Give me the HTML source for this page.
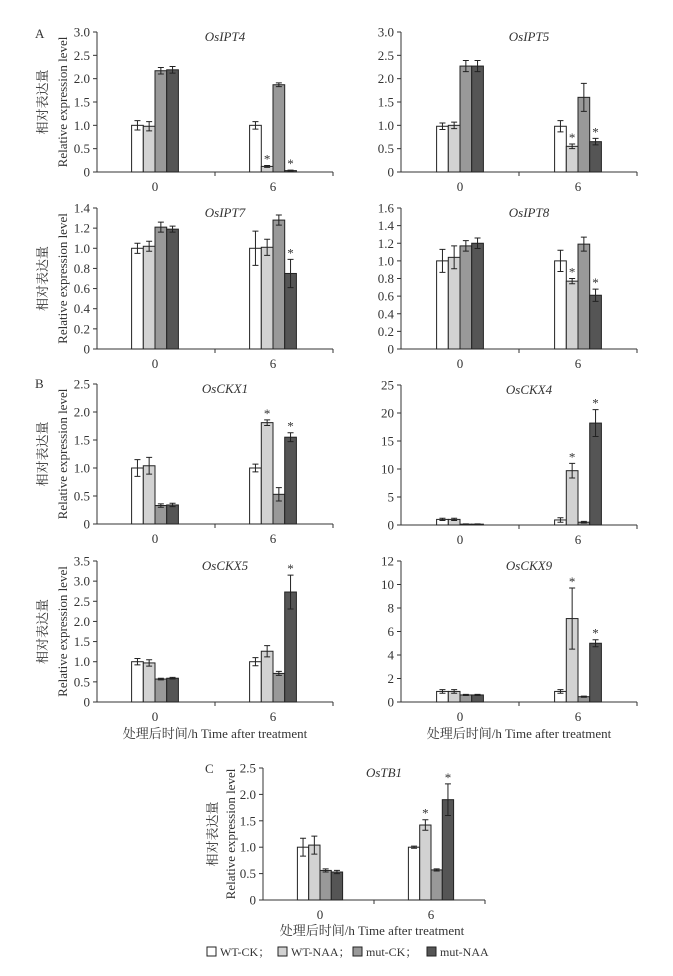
<!DOCTYPE html>
<html><head><meta charset="utf-8"><style>
body{margin:0;background:#fff;}
svg{display:block;font-family:"Liberation Serif","Noto Serif CJK SC",serif;fill:#333;}
</style></head><body>
<svg id="fig" width="673" height="976" viewBox="0 0 673 976" xmlns="http://www.w3.org/2000/svg">
<text x="35" y="38" font-size="13">A</text>
<text x="35" y="388" font-size="13">B</text>
<text x="205" y="773" font-size="13">C</text>
<text x="215" y="738" font-size="13" text-anchor="middle">处理后时间/h  Time after treatment</text>
<text x="519" y="738" font-size="13" text-anchor="middle">处理后时间/h  Time after treatment</text>
<text x="372" y="935" font-size="13" text-anchor="middle">处理后时间/h  Time after treatment</text>
<g id="legend"></g>
</svg>
<script>
const genes = ["OsIPT4","OsIPT5","OsIPT7","OsIPT8","OsCKX1","OsCKX4","OsCKX5","OsCKX9","OsTB1"];
const groupLabels = ["0","6"];
const seriesNames = ["WT-CK","WT-NAA","mut-CK","mut-NAA"];
const yMax = [3.0,3.0,1.4,1.6,2.5,25,3.5,12,2.5];
const yStep = [0.5,0.5,0.2,0.2,0.5,5,0.5,2,0.5];
const mean0 = [[1.0,0.98,2.17,2.19],[0.98,1.0,2.27,2.27],[1.0,1.02,1.21,1.19],[1.0,1.04,1.17,1.2],[1.0,1.04,0.33,0.34],[1.0,1.0,0.15,0.15],[1.0,0.97,0.57,0.59],[0.9,0.9,0.6,0.6],[1.0,1.04,0.56,0.53]];
const err0 = [[0.1,0.1,0.07,0.07],[0.07,0.07,0.12,0.12],[0.05,0.05,0.05,0.03],[0.13,0.13,0.06,0.06],[0.15,0.15,0.03,0.03],[0.2,0.2,0.05,0.05],[0.08,0.08,0.02,0.02],[0.15,0.15,0.05,0.05],[0.17,0.17,0.03,0.03]];
const mean6 = [[1.0,0.12,1.87,0.03],[0.98,0.55,1.6,0.65],[1.0,1.01,1.28,0.75],[1.0,0.77,1.19,0.61],[1.0,1.81,0.53,1.55],[0.9,9.7,0.5,18.2],[1.0,1.26,0.71,2.73],[0.9,7.1,0.45,5.0],[1.0,1.42,0.57,1.9]];
const err6 = [[0.08,0.02,0.04,0.01],[0.12,0.05,0.3,0.07],[0.17,0.08,0.05,0.14],[0.12,0.03,0.08,0.07],[0.07,0.05,0.12,0.08],[0.4,1.3,0.15,2.4],[0.1,0.14,0.05,0.42],[0.15,2.6,0.05,0.3],[0.02,0.1,0.02,0.3]];
const star6 = [[0,1,0,1],[0,1,0,1],[0,0,0,1],[0,1,0,1],[0,1,0,1],[0,1,0,1],[0,0,0,1],[0,1,0,1],[0,1,0,1]];

const colors=["#ffffff","#d2d2d2","#999999","#555555"];
const layout=[
 {x0:97,x1:333,g:[155,273],t:32,b:172,yl:true},
 {x0:401,x1:637,g:[460,578],t:32,b:172,yl:false},
 {x0:97,x1:333,g:[155,273],t:208,b:349,yl:true},
 {x0:401,x1:637,g:[460,578],t:208,b:349,yl:false},
 {x0:97,x1:333,g:[155,273],t:384,b:524,yl:true},
 {x0:401,x1:637,g:[460,578],t:385,b:525,yl:false},
 {x0:97,x1:333,g:[155,273],t:561,b:702,yl:true},
 {x0:401,x1:637,g:[460,578],t:561,b:702,yl:false},
 {x0:263,x1:485,g:[320,431],t:768,b:900,yl:true,c:true}
];
const svg=document.getElementById('fig');
const NS="http://www.w3.org/2000/svg";
function mk(tag,attrs,parent){const e=document.createElementNS(NS,tag);for(const k in attrs)e.setAttribute(k,attrs[k]);(parent||svg).appendChild(e);return e;}
function fmt(v,step){if(v===0)return "0";return step>=1?String(Math.round(v)):v.toFixed(1);}
genes.forEach((gname,i)=>{
 const L=layout[i];
 const g=mk('g',{});
 
 
 const ys=v=>L.b-(v/yMax[i])*(L.b-L.t);
 const bw=L.c?11.3:11.7;
 const ya=mk('line',{x1:L.x0,y1:L.t,x2:L.x0,y2:L.b,stroke:"#333","stroke-width":1},g);
 
 
 const xa=mk('line',{x1:L.x0,y1:L.b,x2:L.x1,y2:L.b,stroke:"#333","stroke-width":1},g);
 
 
 const mid=(L.x0+L.x1)/2;
 mk('line',{x1:mid,y1:L.b,x2:mid,y2:L.b+4,stroke:"#333"},g);
 mk('line',{x1:L.x1,y1:L.b,x2:L.x1,y2:L.b+4,stroke:"#333"},g);
 const n=Math.round(yMax[i]/yStep[i]);
 for(let k=0;k<=n;k++){
  const v=k*yStep[i],y=ys(v);
  mk('line',{x1:L.x0-4,y1:y,x2:L.x0,y2:y,stroke:"#333"},g);
  const t=mk('text',{x:L.x0-7,y:y+4.5,'font-size':13,'text-anchor':'end'},g);
  t.textContent=fmt(v,yStep[i]);
  
  
 }
 const tt=mk('text',{x:mid+10,y:L.t+9,'font-size':13,'font-style':'italic','text-anchor':'middle'},g);
 tt.textContent=gname;
 
 
 if(L.yl){
  const cy=(L.t+L.b)/2, xc=L.c?213:43, xe=L.c?231:63;
  const a=mk('text',{x:xc,y:cy,'font-size':13,'text-anchor':'middle',transform:`rotate(-90 ${xc} ${cy})`,dy:'4'},g);
  a.textContent="相对表达量";
  
  
  const b=mk('text',{x:xe,y:cy,'font-size':13,'text-anchor':'middle',transform:`rotate(-90 ${xe} ${cy})`,dy:'4'},g);
  b.textContent="Relative expression level";
  
  
 }
 [mean0[i],mean6[i]].forEach((vals,gi)=>{
  const errs=gi===0?err0[i]:err6[i];
  const cx=L.g[gi];
  const gl=mk('text',{x:cx,y:L.b+19,'font-size':13,'text-anchor':'middle'},g);
  gl.textContent=groupLabels[gi];
  
  
  vals.forEach((v,s)=>{
   const x=cx-2*bw+s*bw, y=ys(v);
   const r=mk('rect',{x:x,y:y,width:bw,height:Math.max(L.b-y,0.5),fill:colors[s],stroke:"#222","stroke-width":1},g);
   
   
   const bx=x+bw/2, e=errs[s], y1=ys(v+e), y2=ys(Math.max(v-e,0));
   const eg=mk('path',{d:`M${bx},${y1}V${y2}M${bx-3},${y1}H${bx+3}M${bx-3},${y2}H${bx+3}`,stroke:"#222",fill:"none","stroke-width":1},g);
   
   
   if(gi===1&&star6[i][s]){
    const st=mk('text',{x:bx,y:y1-2,'font-size':13,'text-anchor':'middle'},g);
    st.textContent="*";
    
    
   }
  });
 });
});
const lg=document.getElementById('legend');
const lx=[207,278,353,427];
seriesNames.forEach((nm,s)=>{
 const r=mk('rect',{x:lx[s],y:947,width:9,height:9,fill:colors[s],stroke:"#222"},lg);
 
 
 const t=mk('text',{x:lx[s]+13,y:956,'font-size':12},lg);
 t.textContent=nm+(s<3?"；":"");
 
 
});
</script>
</body></html>
